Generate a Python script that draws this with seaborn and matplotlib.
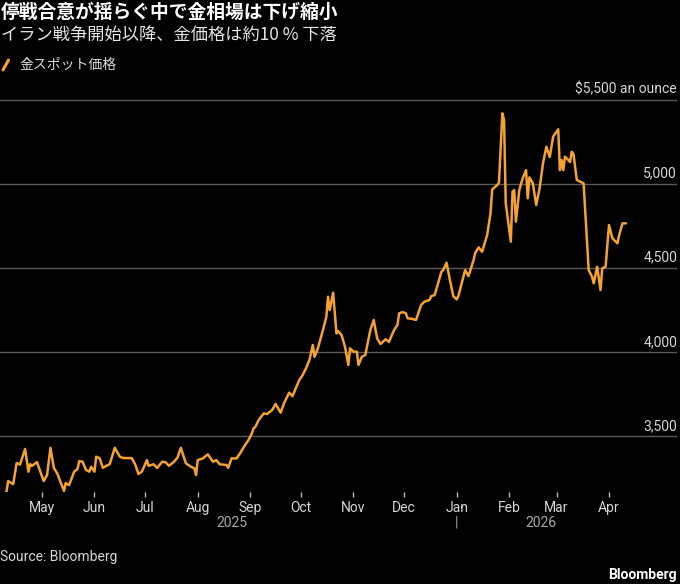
import matplotlib
matplotlib.use("Agg")
import matplotlib.pyplot as plt
import matplotlib.dates as mdates
import matplotlib.transforms as mtransforms
from matplotlib.lines import Line2D
import seaborn as sns
import pandas as pd

# ---------------- data ----------------
dates = [
    "2025-04-10", "2025-04-11", "2025-04-14", "2025-04-16", "2025-04-18", "2025-04-21",
    "2025-04-23", "2025-04-24", "2025-04-25", "2025-04-28", "2025-05-02", "2025-05-04",
    "2025-05-06", "2025-05-08", "2025-05-10", "2025-05-14", "2025-05-15", "2025-05-17",
    "2025-05-20", "2025-05-22", "2025-05-23", "2025-05-25", "2025-05-27", "2025-05-29",
    "2025-05-30", "2025-06-01", "2025-06-02", "2025-06-04", "2025-06-06", "2025-06-08",
    "2025-06-10", "2025-06-13", "2025-06-16", "2025-06-18", "2025-06-23", "2025-06-25",
    "2025-06-27", "2025-06-29", "2025-07-02", "2025-07-03", "2025-07-06", "2025-07-08",
    "2025-07-11", "2025-07-13", "2025-07-15", "2025-07-18", "2025-07-20", "2025-07-22",
    "2025-07-25", "2025-07-28", "2025-07-30", "2025-07-31", "2025-08-01", "2025-08-04",
    "2025-08-07", "2025-08-10", "2025-08-12", "2025-08-14", "2025-08-18", "2025-08-19",
    "2025-08-21", "2025-08-24", "2025-08-26", "2025-08-29", "2025-08-31", "2025-09-02",
    "2025-09-03", "2025-09-04", "2025-09-06", "2025-09-09", "2025-09-11", "2025-09-14",
    "2025-09-16", "2025-09-19", "2025-09-21", "2025-09-24", "2025-09-26", "2025-09-30",
    "2025-10-02", "2025-10-04", "2025-10-06", "2025-10-08", "2025-10-09", "2025-10-11",
    "2025-10-14", "2025-10-16", "2025-10-17", "2025-10-18", "2025-10-20", "2025-10-22",
    "2025-10-23", "2025-10-25", "2025-10-27", "2025-10-29", "2025-10-30", "2025-11-01",
    "2025-11-03", "2025-11-04", "2025-11-06", "2025-11-08", "2025-11-11", "2025-11-13",
    "2025-11-15", "2025-11-17", "2025-11-20", "2025-11-22", "2025-11-25", "2025-11-27",
    "2025-11-28", "2025-11-30", "2025-12-02", "2025-12-03", "2025-12-06", "2025-12-08",
    "2025-12-11", "2025-12-13", "2025-12-16", "2025-12-17", "2025-12-19", "2025-12-23",
    "2025-12-24", "2025-12-26", "2025-12-28", "2025-12-30", "2026-01-01", "2026-01-02",
    "2026-01-05", "2026-01-06", "2026-01-08", "2026-01-11", "2026-01-12", "2026-01-14",
    "2026-01-16", "2026-01-19", "2026-01-21", "2026-01-22", "2026-01-25", "2026-01-26",
    "2026-01-28", "2026-01-29", "2026-01-30", "2026-02-02", "2026-02-03", "2026-02-04",
    "2026-02-05", "2026-02-07", "2026-02-09", "2026-02-11", "2026-02-12", "2026-02-13",
    "2026-02-15", "2026-02-17", "2026-02-19", "2026-02-21", "2026-02-23", "2026-02-25",
    "2026-02-27", "2026-03-02", "2026-03-03", "2026-03-04", "2026-03-05", "2026-03-06",
    "2026-03-08", "2026-03-09", "2026-03-10", "2026-03-11", "2026-03-13", "2026-03-15",
    "2026-03-17", "2026-03-20", "2026-03-22", "2026-03-23", "2026-03-25", "2026-03-27",
    "2026-03-28", "2026-03-30", "2026-04-01", "2026-04-03", "2026-04-06", "2026-04-07",
    "2026-04-09", "2026-04-11",
]
prices = [
    3169, 3232, 3214, 3339, 3330, 3423,
    3288, 3333, 3322, 3345, 3232, 3268,
    3430, 3310, 3278, 3173, 3220, 3208,
    3288, 3304, 3351, 3347, 3298, 3288,
    3317, 3288, 3377, 3369, 3311, 3323,
    3333, 3430, 3377, 3369, 3369, 3333,
    3274, 3288, 3357, 3323, 3332, 3310,
    3347, 3344, 3323, 3347, 3371, 3430,
    3338, 3317, 3308, 3268, 3357, 3367,
    3391, 3347, 3357, 3332, 3328, 3311,
    3367, 3367, 3397, 3447, 3476, 3516,
    3546, 3554, 3595, 3635, 3631, 3655,
    3691, 3639, 3695, 3758, 3738, 3833,
    3863, 3903, 3952, 4042, 3972, 4022,
    4131, 4210, 4329, 4250, 4353, 4111,
    4125, 4101, 4032, 3923, 4022, 4002,
    4002, 3923, 3972, 3982, 4131, 4191,
    4082, 4048, 4076, 4061, 4131, 4161,
    4230, 4238, 4230, 4201, 4197, 4191,
    4280, 4300, 4310, 4333, 4339, 4478,
    4488, 4532, 4429, 4333, 4314, 4333,
    4448, 4488, 4452, 4548, 4591, 4623,
    4597, 4696, 4826, 4968, 4994, 5008,
    5421, 5381, 4885, 4657, 4954, 4964,
    4776, 4964, 5034, 5083, 4915, 5040,
    5004, 4875, 4974, 5123, 5222, 5161,
    5282, 5326, 5083, 5143, 5083, 5163,
    5143, 5131, 5192, 5179, 5024, 5014,
    5004, 4488, 4448, 4409, 4508, 4369,
    4498, 4508, 4756, 4677, 4647, 4696,
    4766, 4766,
]
month_ticks = ["2025-05-01", "2025-06-01", "2025-07-01", "2025-08-01", "2025-09-01",
               "2025-10-01", "2025-11-01", "2025-12-01", "2026-01-01", "2026-02-01",
               "2026-03-01", "2026-04-01"]
year_labels = ["2025", "2026"]
year_label_dates = ["2025-08-21", "2026-02-20"]
year_sep_date = "2026-01-01"
y_ticks = [3500, 4000, 4500, 5000, 5500]
y_tick_labels = ["3,500", "4,000", "4,500", "5,000", "$5,500 an ounce"]
title = "停戦合意が揺らぐ中で金相場は下げ縮小"
subtitle = "イラン戦争開始以降、金価格は約10 % 下落"
series_label = "金スポット価格"
source = "Source: Bloomberg"
brand = "Bloomberg"

# ---------------- style ----------------
BG = "#000000"
GOLD = "#f5a233"
GRID = "#5a5a5a"
TXT = "#d6d6d6"

sns.set_theme(style="dark", rc={"axes.facecolor": BG, "figure.facecolor": BG,
                                "axes.edgecolor": BG})
plt.rcParams["font.family"] = ["Roboto", "Noto Sans CJK JP", "DejaVu Sans"]
JP = ["Noto Sans CJK JP", "DejaVu Sans"]

W, H = 680, 584
fig = plt.figure(figsize=(W / 100, H / 100), dpi=100, facecolor=BG)
ax_left, ax_right, ax_top, ax_bot = 0, 677, 96, 492
ax = fig.add_axes([ax_left / W, 1 - ax_bot / H, (ax_right - ax_left) / W, (ax_bot - ax_top) / H])
ax.set_facecolor(BG)

df = pd.DataFrame({"date": pd.to_datetime(dates), "price": prices})
sns.lineplot(data=df, x="date", y="price", ax=ax, color=GOLD, linewidth=1.8)

px_per_day = 1.6925
base = mdates.date2num(pd.Timestamp("2025-05-01"))
ax.set_xlim(base - 42 / px_per_day, base + 635 / px_per_day)
ax.set_ylim(3167, 5524)

for s in ax.spines.values():
    s.set_visible(False)

ax.set_yticks(y_ticks)
ax.grid(axis="y", color=GRID, linewidth=1.0)
ax.grid(axis="x", visible=False)
ax.tick_params(axis="y", length=0, labelleft=False, labelright=False)
ax.set_xlabel("")
ax.set_ylabel("")

ax.set_xticks(pd.to_datetime(month_ticks))
ax.xaxis.set_major_formatter(mdates.DateFormatter("%b"))
ax.tick_params(axis="x", direction="out", length=3.5, width=1, color="#bdbdbd",
               labelcolor=TXT, labelsize=10, pad=3, bottom=True)

ytrans = mtransforms.offset_copy(ax.get_yaxis_transform(), fig=fig, y=4.5, units="points")
for v, lab in zip(y_ticks, y_tick_labels):
    ax.text(1.0, v, lab, transform=ytrans, ha="right", va="baseline",
            color=TXT, fontsize=10)

xtrans = ax.get_xaxis_transform()
yr_y = -(523 - ax_bot) / (ax_bot - ax_top)
for d, lab in zip(year_label_dates, year_labels):
    ax.text(pd.Timestamp(d), yr_y, lab, transform=xtrans, ha="center", va="center",
            color="#a6a6a6", fontsize=10, clip_on=False)
ax.text(pd.Timestamp(year_sep_date), yr_y, "|", transform=xtrans, ha="center",
        va="center", color="#a6a6a6", fontsize=10, clip_on=False)

# ---------------- header / footer ----------------
fig.text(1 / W, 1 - 12 / H, title, color="#ffffff", fontsize=13.5, fontweight="bold",
         family=JP, ha="left", va="center")
fig.text(1 / W, 1 - 35 / H, subtitle, color="#e6e6e6", fontsize=12.4,
         family=JP, ha="left", va="center")
fig.add_artist(Line2D([3 / W, 8.5 / W], [1 - 70 / H, 1 - 60 / H], color=GOLD,
                      linewidth=2.2, transform=fig.transFigure))
fig.text(20 / W, 1 - 65 / H, series_label, color=TXT, fontsize=10,
         family=JP, ha="left", va="center")
fig.text(0 / W, 1 - 557 / H, source, color=TXT, fontsize=10, ha="left", va="center")
fig.text(677 / W, 1 - 575 / H, brand, color="#ffffff", fontsize=10, fontweight="bold",
         ha="right", va="center")

fig.savefig("out.png", dpi=100, facecolor=BG)
